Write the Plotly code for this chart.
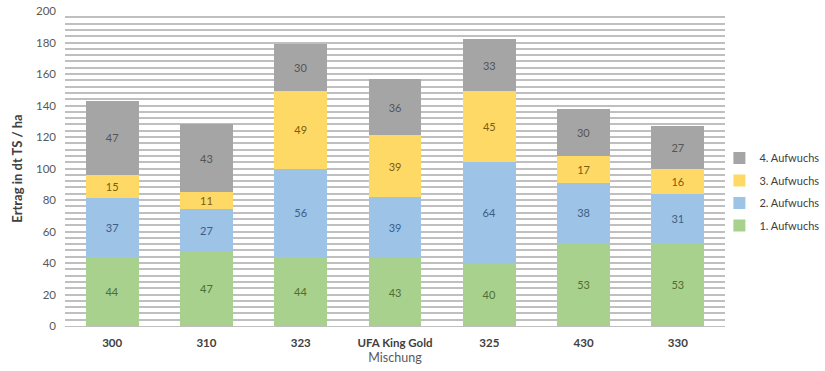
import plotly.graph_objects as go

# Ertrag je Mischung und Aufwuchs (dt TS / ha)
mischungen = ["300", "310", "323", "UFA King Gold", "325", "430", "330"]
aufwuchs_1 = [44, 47, 44, 43, 40, 53, 53]
aufwuchs_2 = [37, 27, 56, 39, 64, 38, 31]
aufwuchs_3 = [15, 11, 49, 39, 45, 17, 16]
aufwuchs_4 = [47, 43, 30, 36, 33, 30, 27]

series = [
    ("1. Aufwuchs", aufwuchs_1, "#a9d18e", "#4e6e32"),
    ("2. Aufwuchs", aufwuchs_2, "#9dc3e6", "#3b5f8a"),
    ("3. Aufwuchs", aufwuchs_3, "#ffd966", "#7a5c10"),
    ("4. Aufwuchs", aufwuchs_4, "#a5a5a5", "#555555"),
]

font_family = "Lato, 'Open Sans', sans-serif"

fig = go.Figure()
for i, (name, values, fill, text_color) in enumerate(series):
    fig.add_trace(go.Bar(
        x=mischungen,
        y=values,
        name=name,
        legendgroup=name,
        legendrank=len(series) - i,  # latest cut listed first
        marker=dict(color=fill, line=dict(width=0)),
        text=[str(v) for v in values],
        textposition="inside",
        insidetextanchor="middle",
        textangle=0,
        constraintext="none",
        textfont=dict(size=11, color=text_color, family=font_family),
    ))

fig.update_layout(
    width=825,
    height=371,
    barmode="stack",
    bargap=0.44,
    plot_bgcolor="white",
    paper_bgcolor="white",
    margin=dict(l=65, r=100, t=11, b=45, autoexpand=False),
    font=dict(family=font_family, color="#595959", size=11),
    legend=dict(
        xref="container", yref="container",
        x=0.872, y=0.613, xanchor="left", yanchor="top",
        bgcolor="rgba(0,0,0,0)",
        traceorder="grouped",
        tracegroupgap=3.5,
        font=dict(size=11, color="#404040"),
        itemwidth=30,
    ),
    xaxis=dict(
        title=dict(text="Mischung", font=dict(size=12.5, color="#595959"), standoff=5),
        tickfont=dict(size=11.5, color="#404040", family=font_family, weight="bold"),
        ticklabelstandoff=6,
        showline=True, linecolor="#bfbfbf", linewidth=1,
        ticks="",
    ),
    yaxis=dict(
        title=dict(text="Ertrag in dt TS / ha",
                   font=dict(size=13, color="#404040", weight="bold"), standoff=10),
        range=[0, 200],
        dtick=20,
        tickfont=dict(size=11.5, color="#595959"),
        ticklabelstandoff=8,
        showgrid=True, gridcolor="#bfbfbf", gridwidth=2,
        minor=dict(dtick=4, showgrid=True, gridcolor="#bfbfbf", gridwidth=2),
        zeroline=False,
        ticks="",
    ),
)

fig.write_html("out.html")
